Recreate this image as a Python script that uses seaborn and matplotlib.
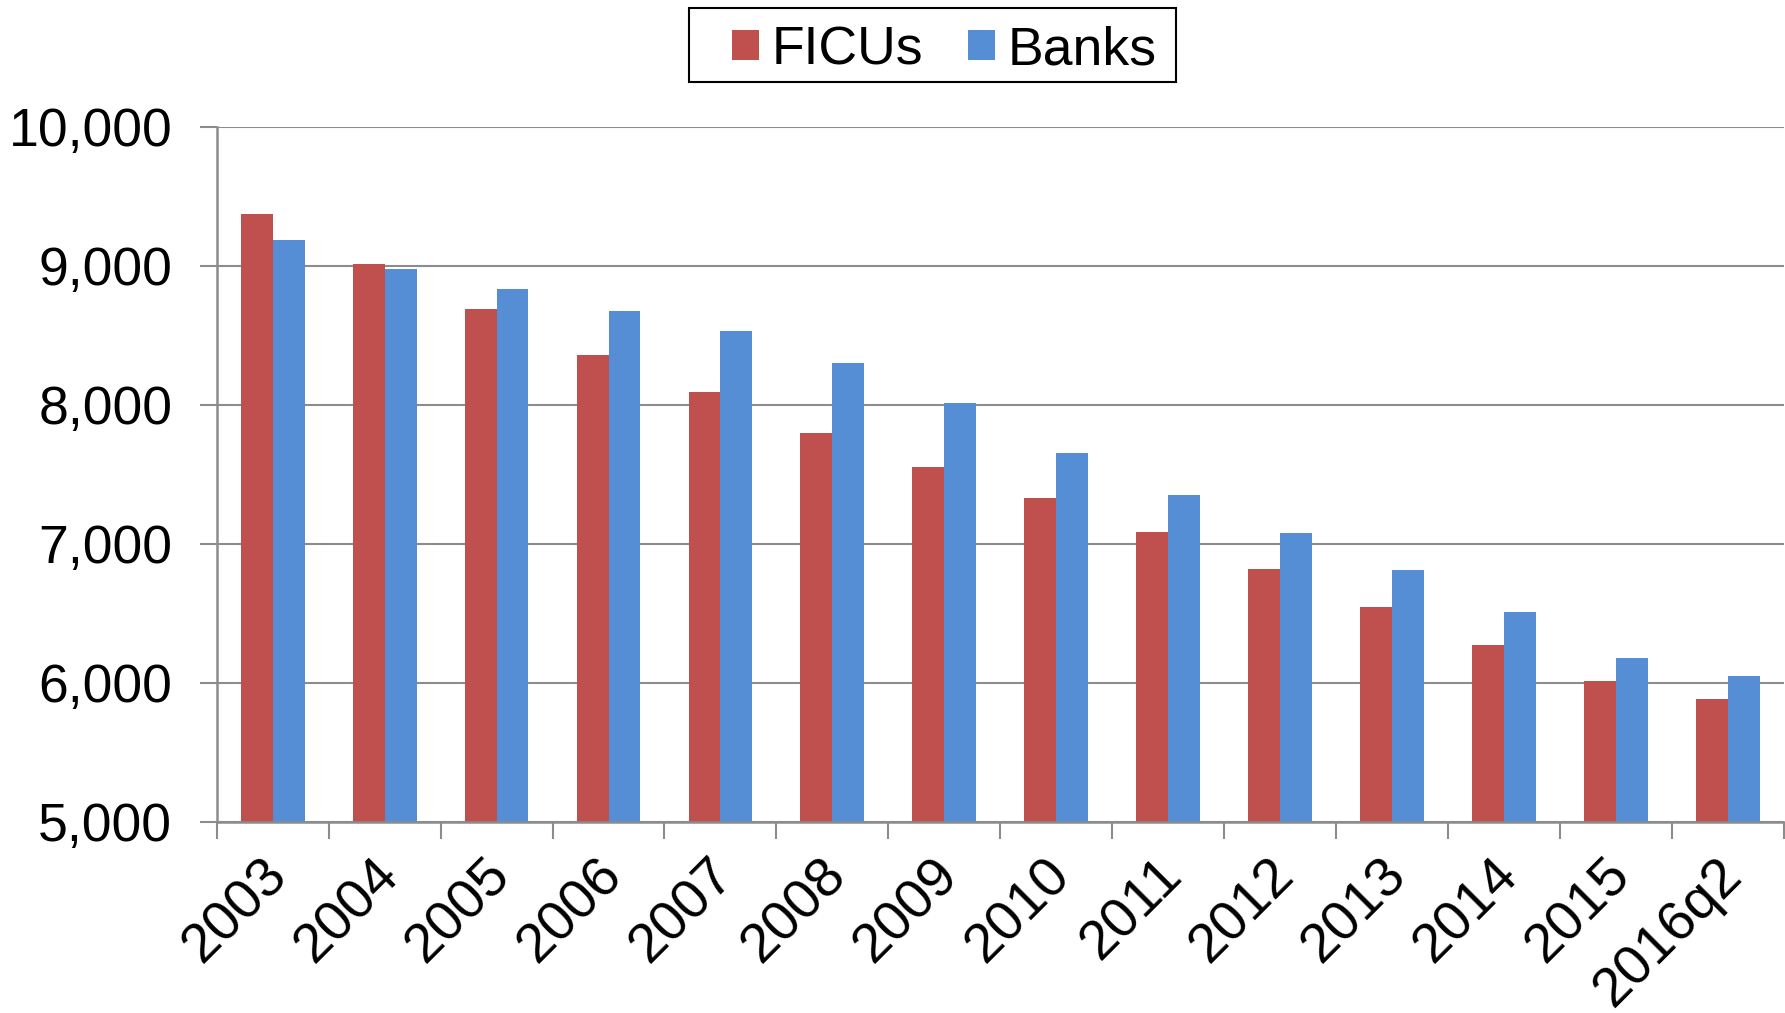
import matplotlib
matplotlib.use("Agg")
import matplotlib.pyplot as plt
import matplotlib.transforms as mtransforms
import seaborn as sns
import pandas as pd
import numpy as np
from matplotlib.ticker import FixedLocator, FuncFormatter
from matplotlib.patches import Patch, Rectangle

categories = ["2003", "2004", "2005", "2006", "2007", "2008", "2009",
              "2010", "2011", "2012", "2013", "2014", "2015", "2016q2"]
ficus = [9370, 9010, 8690, 8355, 8093, 7799, 7553, 7332, 7087, 6817, 6547, 6268, 6014, 5883]
banks = [9182, 8977, 8830, 8674, 8527, 8298, 8011, 7651, 7349, 7079, 6808, 6506, 6175, 6050]
series_names = ["FICUs", "Banks"]
colors = ["#C0504D", "#558ED5"]

df = pd.DataFrame({
    "year": categories * 2,
    "value": ficus + banks,
    "series": [series_names[0]] * len(categories) + [series_names[1]] * len(categories),
})

sns.set_theme(style="white")
plt.rcParams["font.family"] = ["Liberation Sans", "DejaVu Sans"]
plt.rcParams["text.color"] = "black"
plt.rcParams["xtick.color"] = "black"
plt.rcParams["ytick.color"] = "black"
plt.rcParams["axes.labelcolor"] = "black"

fig = plt.figure(figsize=(17.85, 10.13), dpi=100)
ax = fig.add_axes([0.1214, 0.1889, 0.8780, 0.6860])

sns.barplot(data=df, x="year", y="value", hue="series", order=categories,
            hue_order=series_names, palette=colors, width=0.57, saturation=1,
            ax=ax, legend=False, edgecolor="none", linewidth=0)

ax.set_ylim(5000, 10000)
ax.set_xlim(-0.5, len(categories) - 0.5)
ax.set_yticks(np.arange(5000, 10001, 1000))
ax.yaxis.set_major_formatter(FuncFormatter(lambda v, p: f"{int(v):,}"))
ax.grid(axis="y", color="#8c8c8c", linewidth=1.5)
ax.set_axisbelow(True)

# category-boundary ticks, labels at centers
ax.xaxis.set_major_locator(FixedLocator(np.arange(-0.5, len(categories), 1.0)))
ax.set_xticklabels([""] * len(ax.get_xticks()))
ax.set_xticks(np.arange(0, len(categories)), labels=categories, minor=True)
ax.tick_params(axis="x", which="major", direction="out", length=12, width=1.5,
               color="#8c8c8c", bottom=True)
ax.tick_params(axis="x", which="minor", length=0, pad=33, labelsize=40, labelcolor="black")
offset = mtransforms.ScaledTranslation(6 / 100, 0, fig.dpi_scale_trans)
for lbl in ax.get_xticklabels(minor=True):
    lbl.set_rotation(45)
    lbl.set_ha("right")
    lbl.set_va("center")
    lbl.set_rotation_mode("anchor")
    lbl.set_transform(lbl.get_transform() + offset)
ax.tick_params(axis="y", direction="out", length=12, width=1.5, color="#8c8c8c",
               left=True, labelsize=38.5, pad=20, labelcolor="black")

ax.set_xlabel("")
ax.set_ylabel("")
for s in ["top", "right"]:
    ax.spines[s].set_visible(False)
for s in ["left", "bottom"]:
    ax.spines[s].set_color("#8c8c8c")
    ax.spines[s].set_linewidth(1.8)

handles = [Patch(facecolor=c, edgecolor="none") for c in colors]
leg = fig.legend(handles, series_names, loc="center left", bbox_to_anchor=(0.4101, 0.9506),
                 ncol=2, fontsize=38.5, frameon=False,
                 handlelength=0.5, handleheight=0.5, handletextpad=0.24,
                 columnspacing=0.84, borderpad=0, borderaxespad=0)
for t in leg.get_texts():
    t.set_color("black")
fig.patches.append(Rectangle((0.386, 0.9191), 0.2728, 0.0731, transform=fig.transFigure,
                             facecolor="none", edgecolor="black", linewidth=1.5))

fig.savefig("out.png", dpi=100)
